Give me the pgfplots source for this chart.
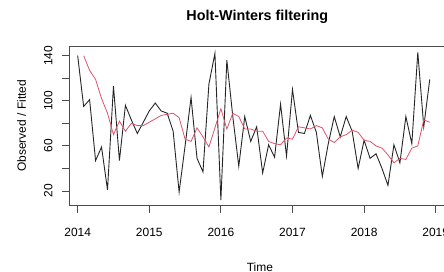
\documentclass[border=0pt]{standalone}
\usepackage{fontspec}
\setmainfont{Liberation Sans}
\usepackage{pgfplots}
\usepackage{pgfplotstable}
\pgfplotsset{compat=1.18}
\definecolor{rred}{HTML}{DF536B}
\pgfplotstableread{
m obs fit
0 140 nan
1 95 140
2 101 127
3 47 119
4 59 102
5 21 89
6 113 70
7 47 82
8 96 73
9 83 80
10 71 78
11 81 78
12 91 81
13 98 84
14 91 87
15 89 88
16 73 89
17 19 85
18 60 66
19 103 64
20 49 76
21 37 68
22 115 59
23 142 76
24 12 93
25 136 75
26 86 89
27 42 86
28 86 75
29 64 75
30 77 73
31 36 73
32 61 64
33 50 62
34 97 61
35 51 67
36 110 66
37 72 77
38 71 76
39 87 75
40 72 78
41 33 76
42 62 66
43 86 63
44 68 68
45 86 70
46 73 74
47 40 72
48 65 65
49 49 64
50 53 60
51 40 58
52 25 52
53 61 45
54 45 49
55 86 48
56 62 58
57 143 60
58 77 83
59 119 81
}\hw
\begin{document}
\begin{tikzpicture}
\begin{axis}[
  at={(0,0)}, anchor=south west,
  scale only axis, width=376bp, height=159.7bp,
  xmin=2013.883, xmax=2019.134, ymin=6.96, ymax=148.6,
  xtick={2014,2015,2016,2017,2018,2019},
  xticklabels={2014,2015,2016,2017,2018,2019},
  ytick={20,40,60,80,100,120,140},
  yticklabels={20,,60,,100,,140},
  tick pos=left, tick align=outside, major tick length=7.2bp,
  every tick/.style={black!70, line width=0.8bp},
  axis line style={black!70, line width=0.8bp},
  ticklabel style={font=\fontsize{12}{14}\selectfont},
  xticklabel style={anchor=north, inner sep=0pt, yshift=-14.8bp},
  yticklabel style={xshift=-9.8bp, rotate=90, anchor=base, inner sep=0pt},
  title={Holt-Winters filtering},
  every axis title/.style={at={(axis description cs:0.5,1.1628)}, anchor=base, font=\fontsize{14.4}{17}\selectfont\bfseries},
  xlabel={Time},
  every axis x label/.style={at={(axis description cs:0.507,-0.409)}, anchor=base, font=\fontsize{12}{14}\selectfont},
  ylabel={Observed / Fitted},
  every axis y label/.style={at={(axis description cs:-0.1152,0.5)}, rotate=90, anchor=base, font=\fontsize{12}{14}\selectfont},
]
\addplot[black!85, line width=0.9bp] table[x expr=2014+\thisrow{m}/12, y=obs] {\hw};
\addplot[rred, line width=0.8bp, unbounded coords=jump] table[x expr=2014+\thisrow{m}/12, y=fit] {\hw};
\end{axis}
\pgfresetboundingbox
\path[use as bounding box] (-69.3bp,-66.3bp) rectangle (374.7bp,205.7bp);
\end{tikzpicture}
\end{document}
